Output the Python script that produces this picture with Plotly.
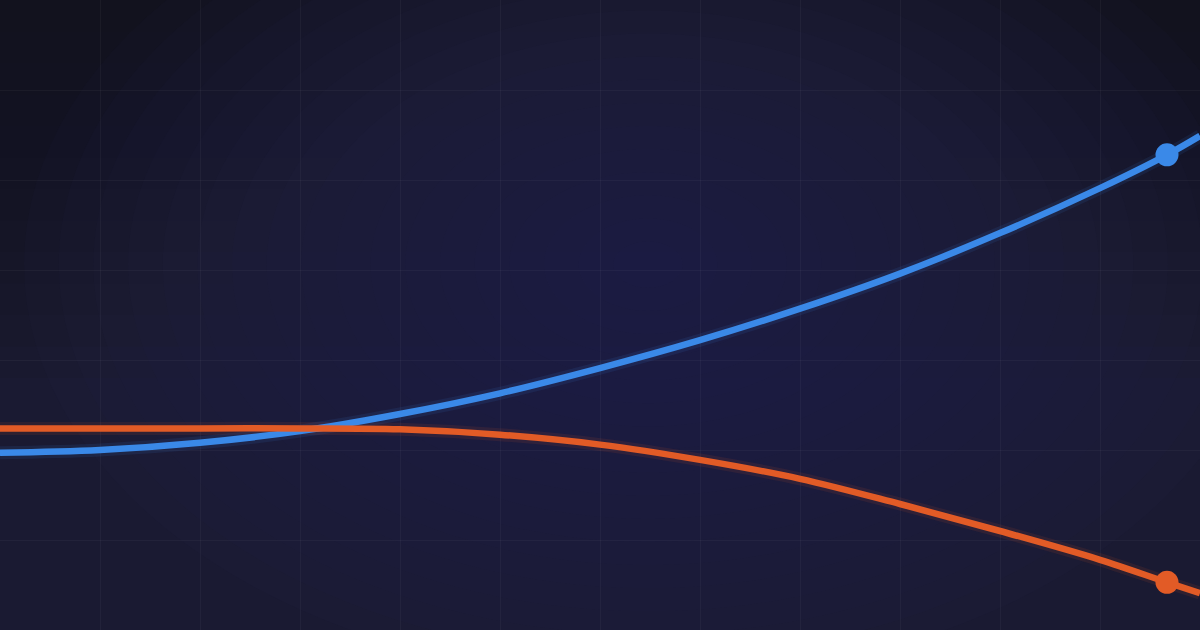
import plotly.graph_objects as go

# x in grid columns (one column = one vertical grid step), y in chart units
x_blue = [0, 1, 2, 3, 4, 5, 6, 7, 8, 9, 10, 11, 11.67, 12]
y_blue = [19.7, 20.0, 20.8, 22.1, 24.0, 26.3, 29.1, 32.2, 35.7, 39.6, 44.1, 49.1, 52.8, 54.9]

x_orange = [0, 1, 2, 3, 4, 5, 6, 7, 8, 9, 10, 11, 11.67, 12]
y_orange = [22.4, 22.4, 22.4, 22.4, 22.3, 21.7, 20.6, 18.9, 16.8, 14.0, 11.0, 7.8, 5.3, 4.1]

end_x = 11.67
end_blue = 52.8
end_orange = 5.3

BLUE = '#3a89e8'
ORANGE = '#e25b26'

fig = go.Figure()

# faint glow under each line
for xs, ys, c in [(x_blue, y_blue, 'rgba(58,137,232,0.10)'), (x_orange, y_orange, 'rgba(226,91,38,0.10)')]:
    fig.add_trace(go.Scatter(x=xs, y=ys, mode='lines', line=dict(color=c, width=13, shape='spline', smoothing=1),
                             hoverinfo='skip', showlegend=False))

fig.add_trace(go.Scatter(x=x_blue, y=y_blue, mode='lines', name='blue',
                         line=dict(color=BLUE, width=6.5, shape='spline', smoothing=1)))
fig.add_trace(go.Scatter(x=x_orange, y=y_orange, mode='lines', name='orange',
                         line=dict(color=ORANGE, width=6.5, shape='spline', smoothing=1)))

fig.add_trace(go.Scatter(x=[end_x], y=[end_blue], mode='markers', marker=dict(color=BLUE, size=23)))
fig.add_trace(go.Scatter(x=[end_x], y=[end_orange], mode='markers', marker=dict(color=ORANGE, size=23)))

shapes = []
# darker towards the top
for i in range(12):
    h = 0.05 + 0.05 * i
    shapes.append(dict(type='rect', xref='paper', yref='paper', layer='below',
                       x0=0, x1=1, y0=1 - h, y1=1,
                       fillcolor='rgba(14,18,30,0.11)', line=dict(width=0)))
# soft radial glow near the middle
n = 18
for i in range(n):
    f = 1 - i / n
    shapes.append(dict(type='circle', xref='paper', yref='paper', layer='below',
                       x0=0.54 - 0.52 * f, x1=0.54 + 0.52 * f,
                       y0=0.58 - 0.66 * f, y1=0.58 + 0.66 * f,
                       fillcolor='rgba(42,46,84,0.075)', line=dict(width=0)))

fig.update_layout(
    width=1200, height=630,
    margin=dict(l=0, r=0, t=0, b=0),
    paper_bgcolor='#1a1a32',
    plot_bgcolor='rgba(0,0,0,0)',
    showlegend=False,
    shapes=shapes,
    xaxis=dict(range=[0, 12], dtick=1, tick0=0, showgrid=True, gridcolor='rgba(255,255,255,0.04)', gridwidth=1,
               zeroline=False, showticklabels=False, fixedrange=True),
    yaxis=dict(range=[0, 70], dtick=10, tick0=0, showgrid=True, gridcolor='rgba(255,255,255,0.04)', gridwidth=1,
               zeroline=False, showticklabels=False, fixedrange=True),
)

fig.write_html("out.html", config={'displayModeBar': False},
               post_script="document.body.style.margin='0';")
